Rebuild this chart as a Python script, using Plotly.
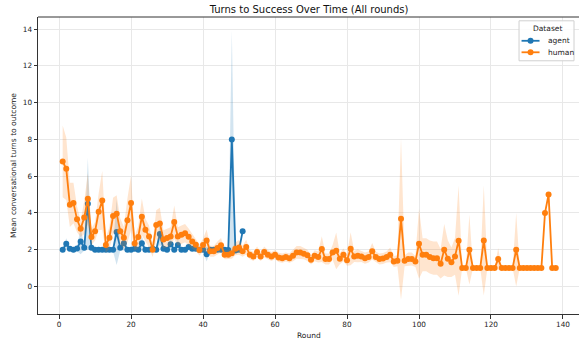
import plotly.graph_objects as go

# ---------------- data ----------------
agent_rounds = list(range(1, 52))
agent_mean = [2.0, 2.32, 2.05, 2.0, 2.07, 2.45, 2.1, 4.5, 2.1, 2.0,
              2.0, 2.0, 2.0, 2.0, 2.0, 2.96, 2.1, 2.35, 2.0, 2.0,
              2.05, 2.0, 2.35, 2.0, 2.0, 2.05, 2.0, 2.85, 2.05, 2.0,
              2.3, 2.0, 2.25, 2.0, 2.0, 2.15, 2.05, 2.05, 2.0, 2.0,
              1.75, 2.0, 2.0, 2.0, 2.0, 2.0, 1.98, 8.0, 1.95, 2.0,
              3.0]
agent_ci = [0.1, 0.3, 0.1, 0.1, 0.15, 0.7, 0.15, 2.5, 0.15, 0.1,
            0.1, 0.1, 0.1, 0.1, 0.1, 1.8, 0.15, 0.4, 0.1, 0.1,
            0.1, 0.1, 0.4, 0.1, 0.1, 0.1, 0.1, 0.6, 0.1, 0.1,
            0.3, 0.1, 0.3, 0.1, 0.1, 0.2, 0.1, 0.1, 0.1, 0.1,
            0.4, 0.1, 0.1, 0.1, 0.1, 0.1, 0.1, 5.93, 0.1, 0.1,
            0.0]

human_rounds = list(range(1, 139))
human_mean = [6.80, 6.40, 4.44, 4.54, 3.65, 3.14, 3.75, 4.77, 2.69, 3.00,
              4.06, 4.68, 2.25, 2.65, 3.83, 3.96, 3.00, 2.65, 3.60, 4.54,
              2.34, 2.69, 3.79, 3.08, 2.72, 2.00, 3.34, 3.43, 2.56, 2.63,
              2.72, 3.50, 2.72, 2.81, 2.90, 2.70, 2.45, 2.27, 1.98, 2.25,
              2.50, 1.91, 1.91, 2.09, 2.24, 1.73, 1.73, 1.81, 2.05, 2.12,
              1.91, 2.14, 1.73, 1.63, 1.87, 1.63, 1.87, 1.73, 1.63, 1.73,
              1.58, 1.54, 1.60, 1.54, 1.67, 1.85, 1.85, 1.78, 1.69, 1.45,
              1.67, 1.60, 2.03, 1.49, 1.49, 1.85, 1.94, 1.51, 1.72, 1.42,
              2.05, 1.63, 1.67, 1.63, 1.54, 1.60, 1.91, 1.60, 1.49, 1.52,
              1.60, 1.72, 1.36, 1.40, 3.68, 1.40, 1.49, 1.49, 1.36, 2.32,
              1.72, 1.72, 1.60, 1.54, 1.54, 1.23, 2.00, 1.51, 1.32, 1.63,
              2.49, 1.0, 1.0, 2.0, 1.0, 1.0, 1.0, 2.5, 1.0, 1.0,
              1.0, 1.49, 1.0, 1.0, 1.0, 1.0, 2.0, 1.0, 1.0, 1.0,
              1.0, 1.0, 1.0, 1.0, 4.0, 5.0, 1.0, 1.0]
human_ci = [1.95, 1.7, 1.2, 1.1, 0.7, 0.45, 0.9, 1.4, 0.45, 0.5,
            1.0, 1.6, 0.4, 0.6, 1.0, 1.0, 0.7, 0.6, 1.2, 1.5,
            0.4, 0.6, 1.0, 0.6, 0.6, 0.4, 0.8, 0.85, 0.5, 0.5,
            0.5, 0.9, 0.5, 0.5, 0.5, 0.45, 0.4, 0.35, 0.3, 0.35,
            0.6, 0.3, 0.3, 0.35, 0.4, 0.25, 0.25, 0.3, 0.35, 0.4,
            0.3, 0.4, 0.25, 0.25, 0.3, 0.25, 0.3, 0.25, 0.25, 0.25,
            0.25, 0.25, 0.25, 0.25, 0.3, 0.35, 0.35, 0.3, 0.3, 0.25,
            0.3, 0.3, 0.7, 0.3, 0.3, 0.4, 1.0, 0.3, 0.35, 0.3,
            0.9, 0.3, 0.35, 0.3, 0.3, 0.3, 0.45, 0.3, 0.3, 0.3,
            0.3, 0.4, 0.3, 0.3, 4.4, 0.3, 0.35, 0.35, 0.3, 1.9,
            0.9, 0.9, 0.9, 0.9, 0.9, 0.8, 1.4, 1.0, 0.8, 1.0,
            3.0, 0.0, 0.0, 1.9, 0.0, 0.0, 0.0, 3.0, 0.0, 0.0,
            0.0, 0.6, 0.0, 0.0, 0.0, 0.0, 2.0, 0.0, 0.0, 0.0,
            0.0, 0.0, 0.0, 0.0, 0.0, 0.0, 0.0, 0.0]

series_names = ["agent", "human"]
x_ticks = [0, 20, 40, 60, 80, 100, 120, 140]
y_ticks = [0, 2, 4, 6, 8, 10, 12, 14]

BLUE = "#1f77b4"
ORANGE = "#ff7f0e"
FONT = "DejaVu Sans"

fig = go.Figure()


def add_series(name, xs, ms, cis, color, fillc):
    up = [m + c for m, c in zip(ms, cis)]
    lo = [m - c for m, c in zip(ms, cis)]
    fig.add_trace(go.Scatter(x=xs, y=up, mode="lines", line=dict(width=0),
                             showlegend=False, hoverinfo="skip"))
    fig.add_trace(go.Scatter(x=xs, y=lo, mode="lines", line=dict(width=0),
                             fill="tonexty", fillcolor=fillc,
                             showlegend=False, hoverinfo="skip"))
    fig.add_trace(go.Scatter(x=xs, y=ms, mode="lines+markers", name=name,
                             line=dict(color=color, width=1.8),
                             marker=dict(color=color, size=6),
                             showlegend=False))


add_series(series_names[0], agent_rounds, agent_mean, agent_ci, BLUE,
           "rgba(31,119,180,0.2)")
add_series(series_names[1], human_rounds, human_mean, human_ci, ORANGE,
           "rgba(255,127,14,0.2)")

L, T = 37.6, 17.2
W, H = 579, 347
B = 347 - 314.3
PW, PH = W - L, H - T - B


def px(x):
    return (x - L) / PW


def py(y):
    return 1 - (y - T) / PH


# ---- legend (drawn as box + samples + text) ----
shapes = [dict(type="line", xref="paper", yref="paper", x0=0, x1=1,
               y0=1, y1=1, line=dict(color="#333", width=1)),
          dict(type="rect", xref="paper", yref="paper",
               x0=px(519), x1=px(574), y0=py(61), y1=py(21),
               fillcolor="rgba(255,255,255,0.85)",
               line=dict(color="#d0d0d0", width=1))]
annotations = [dict(text="Dataset", xref="paper", yref="paper",
                    x=px(547), y=py(29), xanchor="center", yanchor="middle",
                    showarrow=False, font=dict(size=7.5, color="#222"))]
for name, color, yy in zip(series_names, [BLUE, ORANGE], [41, 52.5]):
    shapes.append(dict(type="line", xref="paper", yref="paper",
                       x0=px(521.5), x1=px(539.5), y0=py(yy), y1=py(yy),
                       line=dict(color=color, width=1.8)))
    shapes.append(dict(type="circle", xref="paper", yref="paper",
                       x0=px(527.5), x1=px(533.5), y0=py(yy + 3),
                       y1=py(yy - 3), fillcolor=color,
                       line=dict(color=color, width=0)))
    annotations.append(dict(text=name, xref="paper", yref="paper",
                            x=px(545.5), y=py(yy), xanchor="left",
                            yanchor="middle", showarrow=False,
                            font=dict(size=7.5, color="#222")))

annotations += [
    dict(text="Round", xref="paper", yref="paper",
         x=px(308.5), y=py(336), xanchor="center", yanchor="middle",
         showarrow=False, font=dict(size=7.5, color="#222")),
    dict(text="Mean conversational turns to outcome", xref="paper",
         yref="paper", x=px(13), y=0.5, textangle=-90,
         xanchor="center", yanchor="middle", showarrow=False,
         font=dict(size=7.5, color="#222")),
]

fig.update_layout(
    width=W, height=H,
    margin=dict(l=L, r=0, t=T, b=B),
    plot_bgcolor="white", paper_bgcolor="white",
    showlegend=False,
    font=dict(family=FONT, size=7.3, color="#222"),
    title=dict(text="Turns to Success Over Time (All rounds)",
               x=(L + 580.5) / 2 / W, xanchor="center",
               y=1 - 9 / H, yanchor="middle", yref="container",
               font=dict(family=FONT, size=10, color="#111")),
    xaxis=dict(range=[-5.85, 144.45], tickvals=x_ticks, showgrid=True,
               gridcolor="#e8e8e8", gridwidth=0.8, zeroline=False,
               showline=True, linecolor="#333", linewidth=1,
               ticks="outside", ticklen=3.5, tickcolor="#333",
               tickfont=dict(size=7.3, color="#222")),
    yaxis=dict(range=[-1.5, 14.66], tickvals=y_ticks, showgrid=True,
               gridcolor="#e8e8e8", gridwidth=0.8, zeroline=False,
               showline=True, linecolor="#333", linewidth=1,
               ticks="outside", ticklen=3.5, tickcolor="#333",
               tickfont=dict(size=7.3, color="#222")),
    shapes=shapes,
    annotations=annotations,
)

fig.write_html("out.html")
